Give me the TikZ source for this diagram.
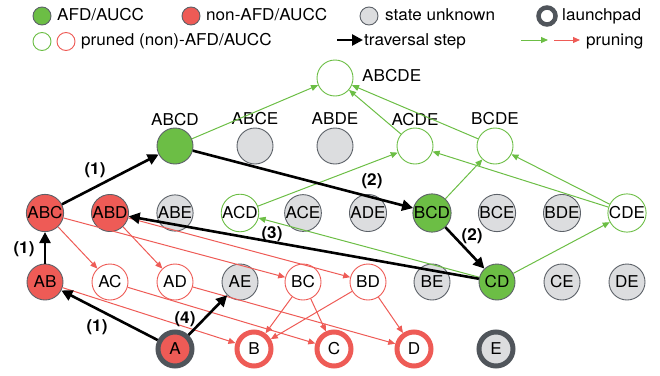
\documentclass[tikz,border=0pt]{standalone}
\usepackage{fontspec}
\setmainfont[FakeStretch=1.05]{TeX Gyre Heros}
\usetikzlibrary{arrows.meta}
\definecolor{gfill}{HTML}{6CBE45}
\definecolor{rfill}{HTML}{EE5B56}
\definecolor{ufill}{HTML}{DCDDDF}
\definecolor{bord}{HTML}{5C6168}
\definecolor{lp}{HTML}{50555B}
\begin{document}
\begin{tikzpicture}[x=1pt,y=-1pt, font=\fontsize{16.3}{19}\selectfont,
 st/.style={circle, minimum size=36pt, inner sep=0pt, line width=0.9pt},
 afd/.style={st, fill=gfill, draw=bord},
 non/.style={st, fill=rfill, draw=bord},
 unk/.style={st, fill=ufill, draw=bord},
 pg/.style={st, fill=white, draw=gfill},
 pr/.style={st, fill=white, draw=rfill},
 sg/.style={circle, minimum size=34pt, inner sep=0pt, line width=5pt},
 lg/.style={circle, minimum size=18pt, inner sep=0pt, line width=0.9pt},
 lbl/.style={inner sep=0pt},
 trav/.style={line width=2.6pt, -{Triangle[length=11pt,width=11pt]}},
 prg/.style={draw=gfill, line width=1pt, -{Triangle[length=7pt,width=6pt]}},
 prr/.style={draw=rfill, line width=1pt, -{Triangle[length=7pt,width=6pt]}},
 num/.style={inner sep=0pt, font=\fontsize{16.3}{19}\selectfont\bfseries}
]
\useasboundingbox (0,0) rectangle (660,375);
% legend
\node[lg, fill=gfill, draw=bord] (lg1) at (42,16) {};
\node[lbl, anchor=base west] (lt1) at (57,20) {AFD/AUCC};
\node[lg, fill=rfill, draw=bord] (lg2) at (191,16) {};
\node[lbl, anchor=base west] (lt2) at (206,20) {non-AFD/AUCC};
\node[lg, fill=ufill, draw=bord] (lg3) at (369,16) {};
\node[lbl, anchor=base west] (lt3) at (385,20) {state unknown};
\node[lg, fill=white, draw=lp, line width=4.5pt, minimum size=17pt] (lg4) at (547,16) {};
\node[lbl, anchor=base west] (lt4) at (562,20) {launchpad};
\node[lg, fill=white, draw=gfill] (lg5) at (42,41.5) {};
\node[lg, fill=white, draw=rfill] (lg6) at (66,41.5) {};
\node[lbl, anchor=base west] (lt5) at (81,45.5) {pruned (non)-AFD/AUCC};
\coordinate (la1) at (337,40);
\coordinate (la2) at (363,40);
\draw[trav] (la1) -- (la2);
\node[lbl, anchor=base west] (lt6) at (364,45.5) {traversal step};
\coordinate (lb1) at (521,40);
\coordinate (lb2) at (548,40);
\draw[prg] (lb1) -- (lb2);
\coordinate (lc1) at (554,40);
\coordinate (lc2) at (580,40);
\draw[prr] (lc1) -- (lc2);
\node[lbl, anchor=base west] (lt7) at (586,45.5) {pruning};
% level 5
\node[pg] (ABCDE) at (335,78) {};
\node[lbl, anchor=west] (tABCDE) at (362,76) {ABCDE};
% level 4
\node[afd] (ABCD) at (175,146) {};
\node[unk] (ABCE) at (255,146) {};
\node[unk] (ABDE) at (335,146) {};
\node[pg] (ACDE) at (415,146) {};
\node[pg] (BCDE) at (495,146) {};
\node[lbl] (tABCD) at (175,120) {ABCD};
\node[lbl] (tABCE) at (255,119) {ABCE};
\node[lbl] (tABDE) at (335,119) {ABDE};
\node[lbl] (tACDE) at (415,120) {ACDE};
\node[lbl] (tBCDE) at (495,119) {BCDE};
% level 3
\node[non] (ABC) at (45,213) {ABC};
\node[non] (ABD) at (110,213) {ABD};
\node[unk] (ABE) at (175,213) {ABE};
\node[pg] (ACD) at (240,213) {ACD};
\node[unk] (ACE) at (303,213) {ACE};
\node[unk] (ADE) at (368,213) {ADE};
\node[afd] (BCD) at (432,213) {BCD};
\node[unk] (BCE) at (497,213) {BCE};
\node[unk] (BDE) at (562,213) {BDE};
\node[pg] (CDE) at (627,213) {CDE};
% level 2
\node[non] (AB) at (45,282) {AB};
\node[pr] (AC) at (110,282) {AC};
\node[pr] (AD) at (175,282) {AD};
\node[unk] (AE) at (240,282) {AE};
\node[pr] (BC) at (303,282) {BC};
\node[pr] (BD) at (368,282) {BD};
\node[unk] (BE) at (432,282) {BE};
\node[afd] (CD) at (497,282) {CD};
\node[unk] (CE) at (562,282) {CE};
\node[unk] (DE) at (627,282) {DE};
% level 1
\node[sg, fill=rfill, draw=lp] (A) at (175,349) {A};
\node[sg, fill=white, draw=rfill] (B) at (254,349) {B};
\node[sg, fill=white, draw=rfill] (C) at (334,349) {C};
\node[sg, fill=white, draw=rfill] (D) at (414,349) {D};
\node[sg, fill=ufill, draw=lp] (E) at (496,349) {E};
% green pruning
\draw[prg] (ABCD) -- (ABCDE);
\draw[prg] (ACDE) -- (ABCDE);
\draw[prg] (BCDE) -- (ABCDE);
\draw[prg] (ACD) -- (ACDE);
\draw[prg] (BCD) -- (BCDE);
\draw[prg] (CDE) -- (ACDE);
\draw[prg] (CDE) -- (BCDE);
\draw[prg] (CD) -- (CDE);
\draw[prg] (CD) -- (ACD);
% red pruning
\draw[prr] (ABC) -- (AC);
\draw[prr] (ABC) -- (BC);
\draw[prr] (ABD) -- (AD);
\draw[prr] (ABD) -- (BD);
\draw[prr] (AB) -- (B);
\draw[prr] (AC) -- (C);
\draw[prr] (AD) -- (D);
\draw[prr] (BC) -- (B);
\draw[prr] (BC) -- (C);
\draw[prr] (BD) -- (B);
\draw[prr] (BD) -- (D);
% traversal
\draw[trav] (A) -- (AB);
\draw[trav] (A) -- (AE);
\draw[trav] (AB) -- (ABC);
\draw[trav] (ABC) -- (ABCD);
\draw[trav] (ABCD) -- (BCD);
\draw[trav] (BCD) -- (CD);
\draw[trav] (CD) -- (ABD);
\node[num] (n1) at (97,327) {(1)};
\node[num] (n2) at (185,319) {(4)};
\node[num] (n3) at (24,249) {(1)};
\node[num] (n4) at (95,170) {(1)};
\node[num] (n5) at (372,181) {(2)};
\node[num] (n6) at (472,236) {(2)};
\node[num] (n7) at (272,234) {(3)};
\end{tikzpicture}
\end{document}
